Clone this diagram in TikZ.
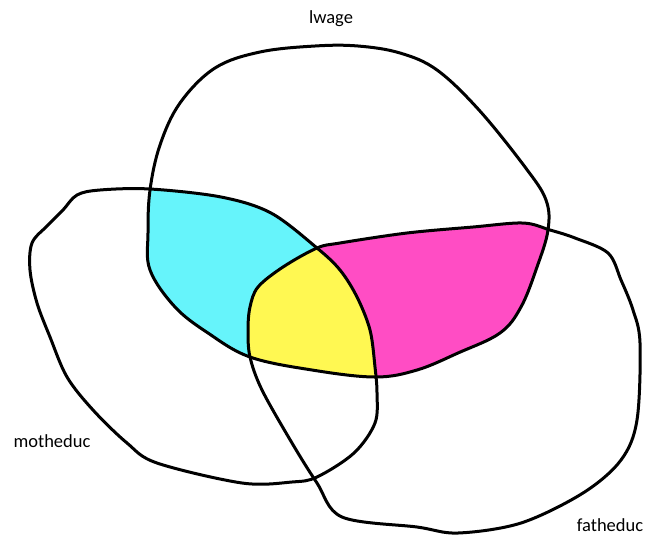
\documentclass[tikz,border=0pt]{standalone}
\usepackage{fontspec}
\setmainfont{Carlito}
\usetikzlibrary{positioning}

\definecolor{cyanfill}{RGB}{102,244,251}
\definecolor{magentafill}{RGB}{255,77,196}
\definecolor{yellowfill}{RGB}{255,248,82}

\begin{document}
\begin{tikzpicture}[
    x=1pt,y=-1pt,
    blob/.style={draw=black,line width=3pt,line join=round},
    setlabel/.style={font=\fontsize{18.5}{22}\selectfont,inner sep=0pt}]
\useasboundingbox (0,0) rectangle (652,536);
% the three sets, kept for clipping and drawing
\path[save path=\lwage] plot[smooth cycle,tension=.6] coordinates {
    (358,46) (400,53) (437,70) (479,110) (525,167) (546,200) (548,230)
    (537,267) (521,307) (500,333) (458,353) (417,370) (375,377) (312,370)
    (250,357) (208,333) (175,307) (150,270) (148,233) (150,190) (160,145)
    (180,103) (215,68) (260,52) (315,46)};
\path[save path=\motheduc] plot[smooth cycle,tension=.55] coordinates {
    (100,190) (150,189) (221,197) (271,213) (317,248) (340,270) (357,297)
    (370,330) (375,367) (377,393) (375,423) (354,453) (317,477) (292,482)
    (242,483) (157,463) (127,443) (93,410) (67,377) (50,337) (37,303)
    (30,270) (32,243) (47,226) (63,210) (77,195)};
\path[save path=\fatheduc] plot[smooth cycle,tension=.55] coordinates {
    (317,248) (340,243) (407,233) (473,227) (523,223) (550,230) (575,238)
    (608,253) (621,280) (633,310) (640,343) (637,420) (621,460) (583,493)
    (521,523) (458,533) (417,527) (342,517) (317,483) (292,443) (262,390)
    (250,357) (248,330) (250,307) (258,287) (283,267)};
% overlaps
\begin{scope}
    \clip[use path=\lwage];
    \clip[use path=\motheduc];
    \fill[cyanfill] (0,0) rectangle (652,536);
\end{scope}
\begin{scope}
    \clip[use path=\lwage];
    \clip[use path=\fatheduc];
    \fill[magentafill] (0,0) rectangle (652,536);
    \clip[use path=\motheduc];
    \fill[yellowfill] (0,0) rectangle (652,536);
\end{scope}
% outlines
\draw[blob,use path=\lwage];
\draw[blob,use path=\motheduc];
\draw[blob,use path=\fatheduc];
% labels
\node[setlabel] (lwage-label) at (331,19) {lwage};
\node[setlabel] (motheduc-label) at (52,441) {motheduc};
\node[setlabel] (fatheduc-label) at (610,525) {fatheduc};
\end{tikzpicture}
\end{document}
